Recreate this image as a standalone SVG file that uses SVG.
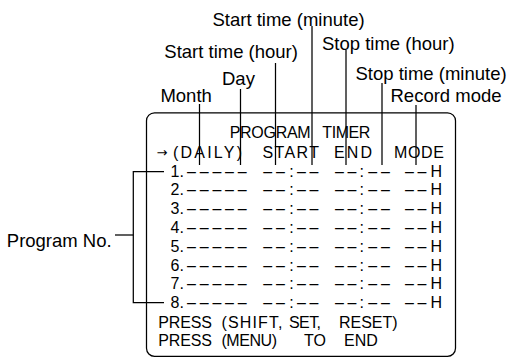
<svg xmlns="http://www.w3.org/2000/svg" width="509" height="358" viewBox="0 0 509 358">
<style>
.lbl{font-family:"Liberation Sans",Arial,sans-serif;font-size:18.5px;fill:#000}
.t{font-family:"Liberation Sans",Arial,sans-serif;font-size:16px;fill:#000}
.ln{stroke:#000;stroke-width:1.25;fill:none}
</style>
<rect width="509" height="358" fill="#fff"/>
<g id="screen">
<rect class="ln" x="146.5" y="112.8" width="309" height="243.5" rx="8"/>
<text class="t" y="137.5"><tspan x="229.7" textLength="81" lengthAdjust="spacing">PROGRAM</tspan><tspan x="322.3" textLength="48" lengthAdjust="spacing">TIMER</tspan></text>
<text class="t" y="157.5"><tspan x="156.5" font-size="13" font-family="DejaVu Sans,sans-serif" dy="-1">→</tspan><tspan x="173" dy="1" textLength="69" lengthAdjust="spacing">(DAILY)</tspan><tspan x="262.5" textLength="56.5" lengthAdjust="spacing">START</tspan><tspan x="334" textLength="38" lengthAdjust="spacing">END</tspan><tspan x="394" textLength="50" lengthAdjust="spacing">MODE</tspan></text>
<g id="rows">
<text class="t" y="176.5"><tspan x="170.5">1.</tspan><tspan x="187 199.7 212.4 225.1 237.8">–––––</tspan><tspan x="263.3 275.9">––</tspan><tspan x="289.2">:</tspan><tspan x="297 309.6">––</tspan><tspan x="335 347.6">––</tspan><tspan x="359.4">:</tspan><tspan x="368.3 380.9">––</tspan><tspan x="405 417.6">––</tspan><tspan x="430.5">H</tspan></text>
<text class="t" y="195.3"><tspan x="170.5">2.</tspan><tspan x="187 199.7 212.4 225.1 237.8">–––––</tspan><tspan x="263.3 275.9">––</tspan><tspan x="289.2">:</tspan><tspan x="297 309.6">––</tspan><tspan x="335 347.6">––</tspan><tspan x="359.4">:</tspan><tspan x="368.3 380.9">––</tspan><tspan x="405 417.6">––</tspan><tspan x="430.5">H</tspan></text>
<text class="t" y="214.1"><tspan x="170.5">3.</tspan><tspan x="187 199.7 212.4 225.1 237.8">–––––</tspan><tspan x="263.3 275.9">––</tspan><tspan x="289.2">:</tspan><tspan x="297 309.6">––</tspan><tspan x="335 347.6">––</tspan><tspan x="359.4">:</tspan><tspan x="368.3 380.9">––</tspan><tspan x="405 417.6">––</tspan><tspan x="430.5">H</tspan></text>
<text class="t" y="232.9"><tspan x="170.5">4.</tspan><tspan x="187 199.7 212.4 225.1 237.8">–––––</tspan><tspan x="263.3 275.9">––</tspan><tspan x="289.2">:</tspan><tspan x="297 309.6">––</tspan><tspan x="335 347.6">––</tspan><tspan x="359.4">:</tspan><tspan x="368.3 380.9">––</tspan><tspan x="405 417.6">––</tspan><tspan x="430.5">H</tspan></text>
<text class="t" y="251.7"><tspan x="170.5">5.</tspan><tspan x="187 199.7 212.4 225.1 237.8">–––––</tspan><tspan x="263.3 275.9">––</tspan><tspan x="289.2">:</tspan><tspan x="297 309.6">––</tspan><tspan x="335 347.6">––</tspan><tspan x="359.4">:</tspan><tspan x="368.3 380.9">––</tspan><tspan x="405 417.6">––</tspan><tspan x="430.5">H</tspan></text>
<text class="t" y="270.5"><tspan x="170.5">6.</tspan><tspan x="187 199.7 212.4 225.1 237.8">–––––</tspan><tspan x="263.3 275.9">––</tspan><tspan x="289.2">:</tspan><tspan x="297 309.6">––</tspan><tspan x="335 347.6">––</tspan><tspan x="359.4">:</tspan><tspan x="368.3 380.9">––</tspan><tspan x="405 417.6">––</tspan><tspan x="430.5">H</tspan></text>
<text class="t" y="289.3"><tspan x="170.5">7.</tspan><tspan x="187 199.7 212.4 225.1 237.8">–––––</tspan><tspan x="263.3 275.9">––</tspan><tspan x="289.2">:</tspan><tspan x="297 309.6">––</tspan><tspan x="335 347.6">––</tspan><tspan x="359.4">:</tspan><tspan x="368.3 380.9">––</tspan><tspan x="405 417.6">––</tspan><tspan x="430.5">H</tspan></text>
<text class="t" y="308.1"><tspan x="170.5">8.</tspan><tspan x="187 199.7 212.4 225.1 237.8">–––––</tspan><tspan x="263.3 275.9">––</tspan><tspan x="289.2">:</tspan><tspan x="297 309.6">––</tspan><tspan x="335 347.6">––</tspan><tspan x="359.4">:</tspan><tspan x="368.3 380.9">––</tspan><tspan x="405 417.6">––</tspan><tspan x="430.5">H</tspan></text>
</g>
<text class="t" y="327.5"><tspan x="158.3" textLength="53.5" lengthAdjust="spacing">PRESS</tspan><tspan x="221.5" textLength="61" lengthAdjust="spacing">(SHIFT,</tspan><tspan x="289" textLength="32" lengthAdjust="spacing">SET,</tspan><tspan x="339" textLength="58.5" lengthAdjust="spacing">RESET)</tspan></text>
<text class="t" y="346"><tspan x="158.3" textLength="53.5" lengthAdjust="spacing">PRESS</tspan><tspan x="221.5" textLength="55.5" lengthAdjust="spacing">(MENU)</tspan><tspan x="304">TO</tspan><tspan x="344">END</tspan></text>
</g>
<g id="label-month"><text class="lbl" x="160.4" y="101.5">Month</text></g>
<g id="label-day"><text class="lbl" x="222" y="85">Day</text></g>
<g id="label-start-hour"><text class="lbl" x="164.3" y="58.3">Start time (hour)</text></g>
<g id="label-start-minute"><text class="lbl" x="212.5" y="25.5">Start time (minute)</text></g>
<g id="label-stop-hour"><text class="lbl" x="322" y="50">Stop time (hour)</text></g>
<g id="label-stop-minute"><text class="lbl" x="355.5" y="80">Stop time (minute)</text></g>
<g id="label-record-mode"><text class="lbl" x="390.5" y="101.5">Record mode</text></g>
<g id="label-program-no"><text class="lbl" x="6.8" y="246.5">Program No.</text></g>
<g id="connectors">
<line class="ln" x1="199.5" y1="104" x2="199.5" y2="165"/>
<line class="ln" x1="240.5" y1="89" x2="240.5" y2="165"/>
<line class="ln" x1="275.5" y1="63" x2="275.5" y2="165"/>
<line class="ln" x1="312" y1="26" x2="312" y2="165"/>
<line class="ln" x1="346" y1="50" x2="346" y2="165"/>
<line class="ln" x1="382" y1="83" x2="382" y2="165"/>
<line class="ln" x1="416" y1="105" x2="416" y2="165"/>
<polyline class="ln" points="164,171.7 133.3,171.7 133.3,302.7 164,302.7"/>
<line class="ln" x1="115" y1="235" x2="133.3" y2="235"/>
</g>
</svg>
